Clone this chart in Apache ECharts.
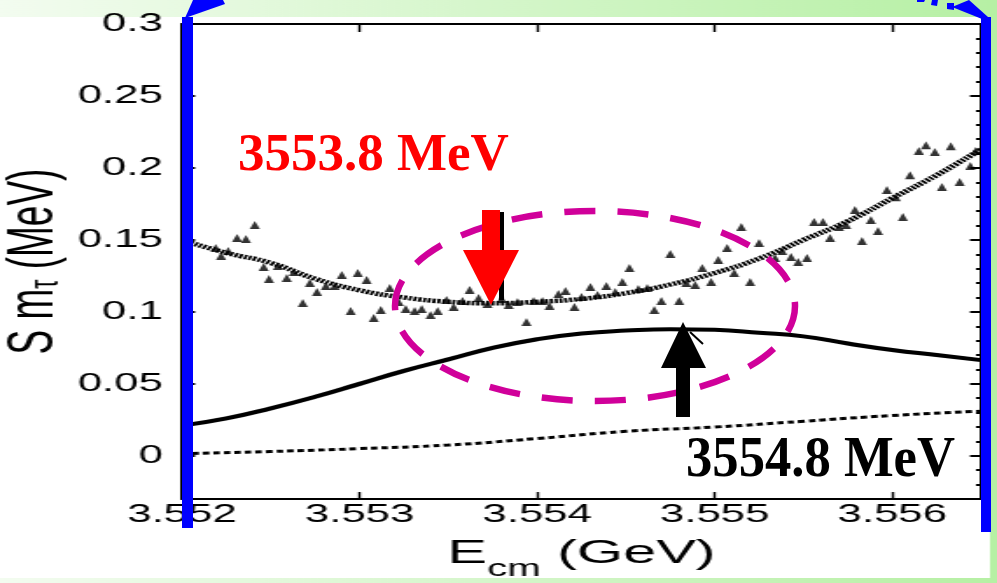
<!DOCTYPE html>
<html><head><meta charset="utf-8">
<script src="https://cdn.jsdelivr.net/npm/echarts@6/dist/echarts.min.js"></script>
<style>
html,body{margin:0;padding:0;width:997px;height:583px;overflow:hidden;background:#fff}
#wrap{position:relative;width:997px;height:583px;}
#main{position:absolute;left:0;top:0;width:570px;height:583px;transform:scaleX(1.749123);transform-origin:0 0;}
#over{position:absolute;left:0;top:0;width:997px;height:583px;}
</style></head><body>
<div id="wrap"><div id="main"></div><div id="over"></div></div>
<script>
// ---- data ----
const xTicks = [3.552, 3.553, 3.554, 3.555, 3.556];
const yTicks = [0, 0.05, 0.1, 0.15, 0.2, 0.25, 0.3];
const yMinorTicks = [-0.02,-0.01,0,0.01,0.02,0.03,0.04,0.05,0.06,0.07,0.08,0.09,0.1,0.11,0.12,0.13,0.14,0.15,0.16,0.17,0.18,0.19,0.2,0.21,0.22,0.23,0.24,0.25,0.26,0.27,0.28,0.29,0.3];
const fitX = [3.552,3.55225,3.5525,3.55275,3.553,3.55325,3.5535,3.55375,3.554,3.55425,3.5545,3.55475,3.555,3.55525,3.5555,3.55575,3.556,3.55625,3.5565];
const dottedFit = [0.150,0.141,0.134,0.123,0.115,0.110,0.107,0.106,0.107,0.109,0.113,0.119,0.127,0.137,0.150,0.163,0.179,0.195,0.213];
const solidCurve = [0.021,0.026,0.033,0.041,0.050,0.059,0.067,0.075,0.081,0.085,0.087,0.088,0.0875,0.0855,0.083,0.078,0.0735,0.070,0.0665];
const dashedX = [3.552,3.5525,3.553,3.5535,3.554,3.5545,3.555,3.5555,3.556,3.5565];
const dashedCurve = [0.0015,0.003,0.005,0.0075,0.012,0.017,0.020,0.024,0.028,0.031];
const scatterX = [3.55219,3.55222,3.55226,3.55231,3.55236,3.55241,3.55246,3.55249,3.55254,3.55259,3.55263,3.55268,3.55272,3.55276,3.55281,3.55286,3.55290,3.55295,3.55299,3.55304,3.55308,3.55312,3.55317,3.55322,3.55326,3.55331,3.55335,3.55340,3.55344,3.55349,3.55353,3.55358,3.55362,3.55367,3.55372,3.55380,3.55384,3.55389,3.55394,3.55398,3.55403,3.55407,3.55412,3.55416,3.55421,3.55425,3.55430,3.55434,3.55439,3.55444,3.55448,3.55452,3.55457,3.55462,3.55466,3.55470,3.55475,3.55480,3.55484,3.55489,3.55493,3.55498,3.55502,3.55507,3.55511,3.55515,3.55520,3.55525,3.55534,3.55538,3.55543,3.55547,3.55552,3.55556,3.55561,3.55565,3.55570,3.55574,3.55579,3.55583,3.55588,3.55592,3.55597,3.55602,3.55606,3.55610,3.55615,3.55619,3.55624,3.55628,3.55633,3.55638,3.55644,3.55647];
const scatterY = [0.1444,0.1389,0.1423,0.1513,0.1506,0.1603,0.1312,0.1228,0.1319,0.1235,0.1277,0.1062,0.1201,0.1138,0.1180,0.1180,0.1256,0.1006,0.1270,0.1221,0.0958,0.1013,0.1166,0.1069,0.1020,0.1006,0.1020,0.0979,0.1006,0.1083,0.1034,0.1076,0.1152,0.1097,0.1055,0.1090,0.1048,0.1069,0.0930,0.1076,0.1076,0.1041,0.1124,0.1145,0.1034,0.1103,0.1173,0.1117,0.1180,0.1138,0.1208,0.1305,0.1159,0.1166,0.1013,0.1076,0.1402,0.1076,0.1201,0.1187,0.1305,0.1208,0.1360,0.1444,0.1270,0.1589,0.1208,0.1478,0.1374,0.1423,0.1381,0.1346,0.1374,0.1624,0.1624,0.1513,0.1589,0.1603,0.1707,0.1492,0.1638,0.1562,0.1846,0.1797,0.1659,0.1950,0.2117,0.2158,0.2110,0.1867,0.2151,0.1902,0.2013,0.2117];
const xName = ['E', 'cm', ' (GeV)'];
const yName = ['S m', 'τ', ' (MeV)'];
const labelLow = '3553.8 MeV';
const labelHigh = '3554.8 MeV';

// ---- main (horizontally stretched like the original figure) ----
const S = 997 / 570;
const zip = (xs, ys) => xs.map((x, i) => [x, ys[i]]);
const main = echarts.init(document.getElementById('main'), null, {width: 570, height: 583});
const FF = 'Liberation Sans, Arial, sans-serif';
const axisFont = {color: '#000', fontSize: 25, fontFamily: FF};
const blackLine = {color: '#000', width: 2};
main.setOption({
  animation: false,
  graphic: [
    {type: 'rect', z: -10, shape: {x: 0, y: 0, width: 570, height: 583},
     style: {fill: new echarts.graphic.LinearGradient(0, 0, 1, 0, [{offset: 0, color: '#f3fcf0'}, {offset: 1, color: '#b6f0a4'}])}},
    {type: 'rect', z: -9, shape: {x: 0, y: 17, width: 990 / S, height: 561}, style: {fill: '#ffffff'}}
  ],
  grid: {left: 182 / S, right: (997 - 981) / S, top: 24, bottom: 583 - 499, outerBoundsMode: 'none', containLabel: false},
  xAxis: [
    {type: 'value', position: 'bottom', min: 3.552, max: 3.5565,
     axisLine: {show: true, onZero: false, lineStyle: blackLine},
     axisTick: {show: true, inside: true, length: 7, customValues: xTicks, lineStyle: {color: '#000', width: 1.4}},
     axisLabel: Object.assign({customValues: xTicks, formatter: v => v.toFixed(3), margin: 4}, axisFont),
     splitLine: {show: false},
     name: '{a|' + xName[0] + '}{s|' + xName[1] + '}{a|' + xName[2] + '}',
     nameLocation: 'middle', nameGap: 38, nameMoveOverlap: false,
     nameTextStyle: {color: '#000', rich: {
       a: {fontSize: 34, fontFamily: FF, color: '#000', lineHeight: 34},
       s: {fontSize: 23, fontFamily: FF, color: '#000', verticalAlign: 'bottom', lineHeight: 23, padding: [0, 0, -10, 0]}}}},
    {type: 'value', position: 'top', min: 3.552, max: 3.5565,
     axisLine: {show: true, onZero: false, lineStyle: blackLine},
     axisTick: {show: true, inside: true, length: 8, customValues: xTicks, lineStyle: {color: '#000', width: 1.4}},
     axisLabel: {show: false}, splitLine: {show: false}}
  ],
  yAxis: [
    {type: 'value', position: 'left', min: -0.03, max: 0.3,
     axisLine: {show: true, onZero: false, lineStyle: blackLine},
     axisTick: {show: true, inside: true, length: 13 / S, customValues: yTicks, lineStyle: {color: '#000', width: 2}},
     axisLabel: Object.assign({customValues: yTicks, formatter: v => String(+v.toFixed(2)), margin: 11}, axisFont),
     splitLine: {show: false},
     name: '{a|' + yName[0] + '}{s|' + yName[1] + '}{a|' + yName[2] + '}',
     nameLocation: 'middle', nameGap: 66, nameRotate: 90, nameMoveOverlap: false,
     nameTextStyle: {color: '#000', rich: {
       a: {fontSize: 37, fontFamily: FF, color: '#000', lineHeight: 37},
       s: {fontSize: 23, fontFamily: FF, color: '#000', verticalAlign: 'bottom'}}}},
    {type: 'value', position: 'right', min: -0.03, max: 0.3,
     axisLine: {show: true, onZero: false, lineStyle: blackLine},
     axisTick: {show: true, inside: true, length: 5 / S, customValues: yMinorTicks, lineStyle: {color: '#000', width: 2}},
     axisLabel: {show: false}, splitLine: {show: false}},
    {type: 'value', position: 'right', min: -0.03, max: 0.3,
     axisLine: {show: false},
     axisTick: {show: true, inside: true, length: 11 / S, customValues: yTicks, lineStyle: {color: '#000', width: 2}},
     axisLabel: {show: false}, splitLine: {show: false}}
  ],
  series: [
    {type: 'line', data: zip(dashedX, dashedCurve), symbol: 'none', smooth: true, z: 3,
     lineStyle: {color: '#000', width: 3, type: [3.7, 2.3]}},
    {type: 'line', data: zip(fitX, solidCurve), symbol: 'none', smooth: true, z: 3,
     lineStyle: {color: '#000', width: 4}},
    {type: 'line', data: zip(fitX, dottedFit), symbol: 'none', smooth: true, z: 3,
     lineStyle: {color: '#000', width: 4.5, type: [1.8, 1.0]}},
    {type: 'scatter', data: zip(scatterX, scatterY), symbol: 'triangle', symbolSize: [5.8, 8], z: 4,
     itemStyle: {color: '#000'}}
  ]
});

// ---- overlay annotations (not stretched) ----
const over = echarts.init(document.getElementById('over'), null, {width: 997, height: 583});
const txt = (t, x, y, font, fill, extra) => Object.assign({type: 'text', z: 20,
  style: {text: t, x: x, y: y, font: font, fill: fill, align: 'left', verticalAlign: 'middle', textAlign: 'left', textVerticalAlign: 'middle'}}, extra || {});
over.setOption({
  animation: false,
  graphic: [
    // blue bars and arrows from the slide
    {type: 'rect', z: 10, shape: {x: 182, y: 17, width: 11, height: 511}, style: {fill: '#0000ff'}},
    {type: 'rect', z: 10, shape: {x: 981, y: 17, width: 10, height: 515}, style: {fill: '#0000ff'}},
    {type: 'polygon', z: 10, shape: {points: [[185, 18], [193, 0], [223, 0], [225, 4]]}, style: {fill: '#0000ff'}},
    {type: 'polygon', z: 10, shape: {points: [[917, 0], [925, 0], [924, 2], [917, 2]]}, style: {fill: '#0000ff'}},
    {type: 'polygon', z: 10, shape: {points: [[932, 0], [938, 0], [937, 6], [931, 5]]}, style: {fill: '#0000ff'}},
    {type: 'polygon', z: 10, shape: {points: [[947, 3], [954, 3], [954, 10], [947, 9]]}, style: {fill: '#0000ff'}},
    {type: 'polygon', z: 10, shape: {points: [[952, 7], [969, 0], [988, 17], [982, 19]]}, style: {fill: '#0000ff'}},
    // magenta dashed ellipse
    {type: 'ellipse', z: 12, shape: {cx: 595, cy: 306, rx: 200, ry: 95},
     style: {fill: null, stroke: '#d0009a', lineWidth: 6.5, lineDash: [31, 22.1], lineDashOffset: 4}},
    // red arrow (down) with black line behind
    {type: 'rect', z: 13, shape: {x: 499, y: 212, width: 5, height: 88}, style: {fill: '#000'}},
    {type: 'rect', z: 14, shape: {x: 482, y: 210, width: 18, height: 42}, style: {fill: '#ff0000'}},
    {type: 'polygon', z: 14, shape: {points: [[463, 250], [519, 250], [491, 305]]}, style: {fill: '#ff0000'}},
    // black arrow (up)
    {type: 'polygon', z: 14, shape: {points: [[683, 322], [661, 368], [706, 368]]}, style: {fill: '#000'}},
    {type: 'rect', z: 14, shape: {x: 676, y: 366, width: 14, height: 51}, style: {fill: '#000'}},
    {type: 'line', z: 14, shape: {x1: 690, y1: 332, x2: 703, y2: 344}, style: {stroke: '#000', lineWidth: 2}},
    // annotation texts
    txt(labelLow, 238, 156, 'bold 53px "Liberation Serif", "Times New Roman", serif', '#ff0000'),
    txt(labelHigh, 686, 462, 'bold 56px "Liberation Serif", "Times New Roman", serif', '#000', {scaleX: 0.94, originX: 686, originY: 462})
  ]
});
</script>
</body></html>
